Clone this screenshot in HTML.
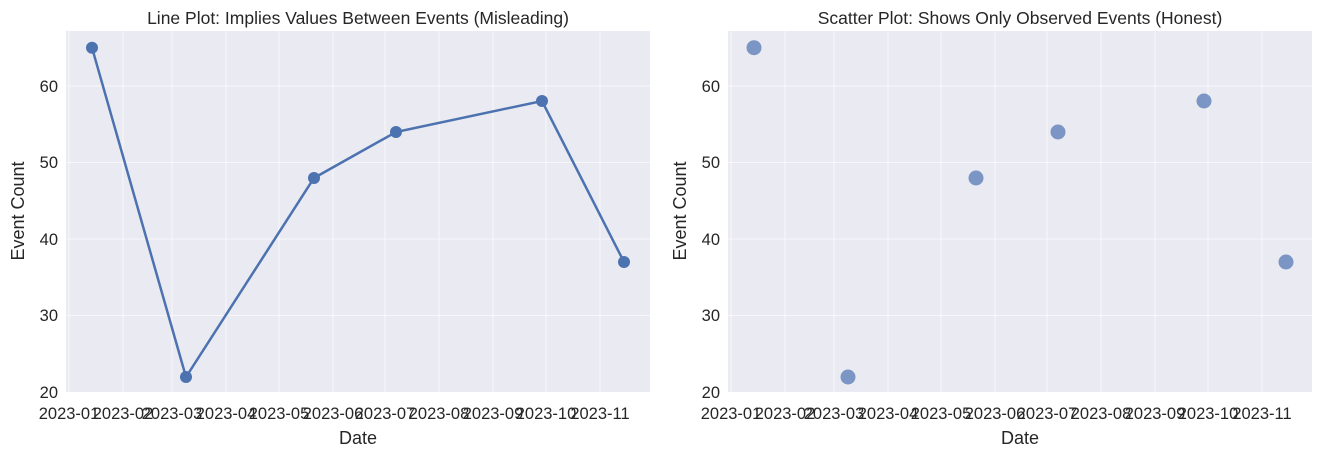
<!DOCTYPE html>
<html><head><meta charset="utf-8"><style>body{margin:0;background:#fff}svg{display:block}</style></head>
<body>
<svg width="1321" height="457" xmlns="http://www.w3.org/2000/svg" font-family="Liberation Sans, DejaVu Sans, sans-serif" fill="#262626">
<defs>
<g id="grid">
<rect x="0" y="31" width="584" height="361" fill="#eaeaf2"/>
<g stroke="#fff" stroke-width="0.8" stroke-opacity="0.8">
<line x1="3" y1="31" x2="3" y2="392"/><line x1="57" y1="31" x2="57" y2="392"/><line x1="106" y1="31" x2="106" y2="392"/><line x1="160" y1="31" x2="160" y2="392"/><line x1="213" y1="31" x2="213" y2="392"/><line x1="267" y1="31" x2="267" y2="392"/><line x1="319" y1="31" x2="319" y2="392"/><line x1="373" y1="31" x2="373" y2="392"/><line x1="427" y1="31" x2="427" y2="392"/><line x1="480" y1="31" x2="480" y2="392"/><line x1="534" y1="31" x2="534" y2="392"/>
<line x1="0" y1="86" x2="584" y2="86"/><line x1="0" y1="162.5" x2="584" y2="162.5"/><line x1="0" y1="239" x2="584" y2="239"/><line x1="0" y1="315.5" x2="584" y2="315.5"/>
</g>
<g font-size="16.5" text-anchor="middle">
<text x="3" y="419">2023-01</text><text x="57" y="419">2023-02</text><text x="106" y="419">2023-03</text><text x="160" y="419">2023-04</text><text x="213" y="419">2023-05</text><text x="267" y="419">2023-06</text><text x="319" y="419">2023-07</text><text x="373" y="419">2023-08</text><text x="427" y="419">2023-09</text><text x="480" y="419">2023-10</text><text x="534" y="419">2023-11</text>
</g>
<g font-size="16.5" text-anchor="end">
<text x="-8" y="398">20</text><text x="-8" y="321">30</text><text x="-8" y="245">40</text><text x="-8" y="168">50</text><text x="-8" y="92">60</text>
</g>
<text x="292" y="444" font-size="18" text-anchor="middle">Date</text>
<text transform="translate(-42,211) rotate(-90)" font-size="18" text-anchor="middle">Event Count</text>
</g>
</defs>
<g transform="translate(66,0)">
<use href="#grid"/>
<text x="292" y="24" font-size="17.5" text-anchor="middle">Line Plot: Implies Values Between Events (Misleading)</text>
<polyline points="26,47.7 120,377 248,178 330,132 476,101 558,262" fill="none" stroke="#4c72b0" stroke-width="2.5"/>
<g fill="#4c72b0"><circle cx="26" cy="47.7" r="6"/><circle cx="120" cy="377" r="6"/><circle cx="248" cy="178" r="6"/><circle cx="330" cy="132" r="6"/><circle cx="476" cy="101" r="6"/><circle cx="558" cy="262" r="6"/></g>
</g>
<g transform="translate(728,0)">
<use href="#grid"/>
<text x="292" y="24" font-size="17.5" text-anchor="middle">Scatter Plot: Shows Only Observed Events (Honest)</text>
<g fill="#4c72b0" fill-opacity="0.7"><circle cx="26" cy="47.7" r="7.5"/><circle cx="120" cy="377" r="7.5"/><circle cx="248" cy="178" r="7.5"/><circle cx="330" cy="132" r="7.5"/><circle cx="476" cy="101" r="7.5"/><circle cx="558" cy="262" r="7.5"/></g>
</g>
</svg>
</body></html>
